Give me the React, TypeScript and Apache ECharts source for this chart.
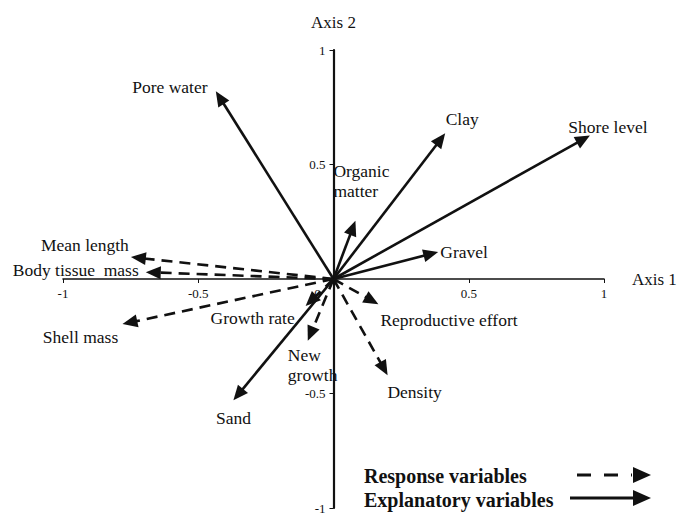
import React, { useEffect, useRef } from "react";
import * as echarts from "echarts";

// Explanatory variables (solid arrows)
const explanatoryNames = ["Pore water", "Clay", "Shore level", "Organic\nmatter", "Gravel", "Sand"];
const explanatoryX = [-0.435, 0.413, 0.948, 0.081, 0.387, -0.37];
const explanatoryY = [0.82, 0.636, 0.627, 0.254, 0.118, -0.53];

// Response variables (dashed arrows)
const responseNames = ["Mean length", "Body tissue  mass", "Shell mass", "Growth rate", "New\ngrowth", "Reproductive effort", "Density"];
const responseX = [-0.749, -0.694, -0.78, -0.103, -0.095, 0.166, 0.2];
const responseY = [0.096, 0.03, -0.197, -0.118, -0.27, -0.11, -0.42];

// Legend entries
const legendNames = ["Response variables", "Explanatory variables"];

// label placement (pixel offsets from arrow tip) — layout only
const explanatoryLabelOffsets: [number, number, string][] = [
  [-46, -4, "center"],
  [17, -14, "center"],
  [18, -8, "center"],
  [-22, -40, "left"],
  [26, 0, "center"],
  [0, 18, "center"],
];
const responseLabelOffsets: [number, number, string][] = [
  [-46, -12, "center"],
  [-70, -2, "center"],
  [-42, 13, "center"],
  [-53, 12, "center"],
  [-20, 24, "left"],
  [2, 16, "left"],
  [27, 17, "center"],
];

const FONT = "Liberation Serif";

function arrowSeries(names: string[], xs: number[], ys: number[], offsets: [number, number, string][], dashed: boolean) {
  return {
    type: "custom",
    coordinateSystem: "cartesian2d",
    data: xs.map((x, i) => [x, ys[i], i]),
    silent: true,
    z: 5,
    renderItem: (params: any, api: any) => {
      const i = api.value(2);
      const o = api.coord([0, 0]);
      const t = api.coord([api.value(0), api.value(1)]);
      const dx = t[0] - o[0];
      const dy = t[1] - o[1];
      const len = Math.sqrt(dx * dx + dy * dy) || 1;
      const ux = dx / len;
      const uy = dy / len;
      const headL = 15;
      const headW = 6.5;
      const bx = t[0] - ux * headL;
      const by = t[1] - uy * headL;
      const px = -uy;
      const py = ux;
      const off = offsets[i];
      return {
        type: "group",
        children: [
          {
            type: "line",
            shape: { x1: o[0], y1: o[1], x2: bx + ux * 2, y2: by + uy * 2 },
            style: { stroke: "#111", lineWidth: 2.6, lineDash: dashed ? [11, 7] : null },
          },
          {
            type: "polygon",
            shape: { points: [[t[0], t[1]], [bx + px * headW, by + py * headW], [bx - px * headW, by - py * headW]] },
            style: { fill: "#111" },
          },
          {
            type: "text",
            x: t[0] + off[0],
            y: t[1] + off[1],
            style: {
              text: names[i],
              font: `17.5px "${FONT}"`,
              fill: "#111",
              align: off[2],
              verticalAlign: "middle",
              lineHeight: 20,
            },
          },
        ],
      };
    },
  };
}

export default function App() {
  const ref = useRef<HTMLDivElement>(null);
  useEffect(() => {
    if (!ref.current) return;
    const chart = echarts.init(ref.current, null, { renderer: "svg" });
    const gridH = 458;
    const gridW = 541;
    chart.setOption({
      animation: false,
      backgroundColor: "#fff",
      grid: { left: 63, top: 50, width: gridW, height: gridH, containLabel: false, outerBoundsMode: "none" },
      xAxis: {
        type: "value",
        min: -1,
        max: 1,
        interval: 0.5,
        position: "bottom",
        offset: -gridH / 2,
        name: "Axis 1",
        nameLocation: "end",
        nameGap: 28,
        nameTextStyle: { fontFamily: FONT, fontSize: 17, color: "#111", align: "left", verticalAlign: "middle" },
        splitLine: { show: false },
        axisLine: { onZero: false, lineStyle: { color: "#111", width: 1.6 } },
        axisTick: { show: true, length: 4, lineStyle: { color: "#111" } },
        axisLabel: {
          fontFamily: FONT,
          fontSize: 13,
          color: "#111",
          margin: 8,
          formatter: (v: number) => (v === 0 ? "{z|0}" : String(v)),
          rich: { z: { fontFamily: FONT, fontSize: 13, color: "#111", padding: [0, 32, 0, 0] } },
        },
      },
      yAxis: {
        type: "value",
        min: -1,
        max: 1,
        interval: 0.5,
        position: "left",
        offset: -gridW / 2,
        name: "Axis 2",
        nameLocation: "end",
        nameGap: 28,
        nameTextStyle: { fontFamily: FONT, fontSize: 17, color: "#111", align: "center", verticalAlign: "middle" },
        splitLine: { show: false },
        axisLine: { onZero: false, lineStyle: { color: "#111", width: 2.2 } },
        axisTick: { show: true, length: 4, lineStyle: { color: "#111" } },
        axisLabel: {
          fontFamily: FONT,
          fontSize: 13,
          color: "#111",
          margin: 8,
          formatter: (v: number) => (v === 0 ? "" : String(v)),
        },
      },
      series: [
        arrowSeries(explanatoryNames, explanatoryX, explanatoryY, explanatoryLabelOffsets, false),
        arrowSeries(responseNames, responseX, responseY, responseLabelOffsets, true),
      ],
      graphic: [
        {
          type: "text",
          x: 364,
          y: 476,
          style: { text: legendNames[0], font: `bold 20px "${FONT}"`, fill: "#111", verticalAlign: "middle" },
        },
        {
          type: "text",
          x: 364,
          y: 500,
          style: { text: legendNames[1], font: `bold 20px "${FONT}"`, fill: "#111", verticalAlign: "middle" },
        },
        {
          type: "line",
          shape: { x1: 577, y1: 475, x2: 632, y2: 475 },
          style: { stroke: "#111", lineWidth: 3, lineDash: [14, 13] },
        },
        {
          type: "polygon",
          shape: { points: [[633, 467], [651, 475], [633, 483]] },
          style: { fill: "#111" },
        },
        {
          type: "line",
          shape: { x1: 570, y1: 498, x2: 636, y2: 498 },
          style: { stroke: "#111", lineWidth: 3 },
        },
        {
          type: "polygon",
          shape: { points: [[633, 490], [651, 498], [633, 506]] },
          style: { fill: "#111" },
        },
      ],
    });
    return () => chart.dispose();
  }, []);
  return <div ref={ref} style={{ position: "absolute", left: 0, top: 0, width: 678, height: 517 }} />;
}
